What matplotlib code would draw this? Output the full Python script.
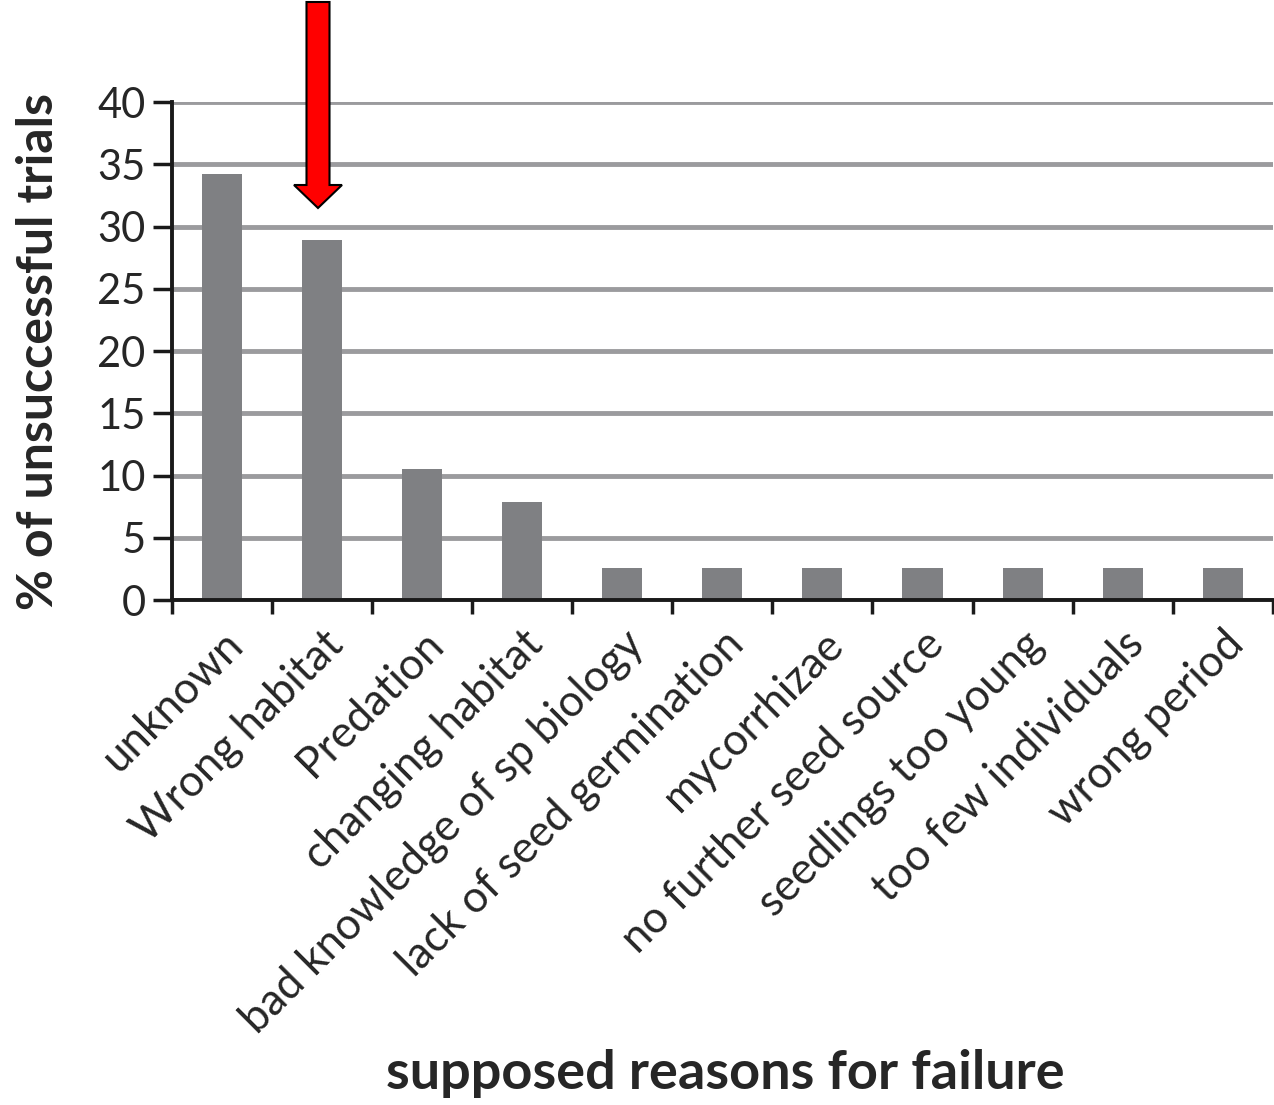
import matplotlib.pyplot as plt
from matplotlib.patches import FancyArrow

# supposed reasons for failure and their share of unsuccessful trials (%)
reasons = ["unknown", "Wrong habitat", "Predation", "changing habitat",
           "bad knowledge of sp biology", "lack of seed germination",
           "mycorrhizae", "no further seed source", "seedlings too young",
           "too few individuals", "wrong period"]
percent = [34.2, 28.9, 10.5, 7.9, 2.6, 2.6, 2.6, 2.6, 2.6, 2.6, 2.6]
yticks = [0, 5, 10, 15, 20, 25, 30, 35, 40]

plt.rcParams['font.family'] = ['Lato', 'DejaVu Sans']
txt = "#262626"

fig = plt.figure(figsize=(12.74, 11.05), dpi=100)
ax = fig.add_axes([0.135, 0.457, 0.864, 0.4506])

x = list(range(len(reasons)))
ax.bar(x, percent, width=0.4, color="#7f8083", zorder=3)

ax.set_xlim(-0.5, len(reasons) - 0.5)
ax.set_ylim(0, 40)
ax.set_yticks(yticks)
ax.set_yticklabels([str(t) for t in yticks], fontsize=30, color=txt)
ax.yaxis.grid(True, color="#9b9b9e", linewidth=3.5, zorder=0)
ax.set_axisbelow(True)

# category ticks sit between the bars
ax.set_xticks([i - 0.5 for i in x] + [len(reasons) - 0.5], minor=False)
ax.set_xticklabels([""] * (len(reasons) + 1))
ax.set_xticks(x, minor=True)
ax.set_xticklabels(reasons, minor=True, rotation=45, ha="right",
                   rotation_mode="anchor", fontsize=31.5, color=txt)
ax.tick_params(axis="x", which="minor", length=0, pad=17)
ax.tick_params(axis="x", which="major", length=10, width=2.5, color="#1a1a1a")
ax.tick_params(axis="y", length=14, width=2.5, color="#1a1a1a", pad=5)

for side in ["top", "right"]:
    ax.spines[side].set_visible(False)
for side in ["left", "bottom"]:
    ax.spines[side].set_linewidth(2.8)
    ax.spines[side].set_color("#1a1a1a")
    ax.spines[side].set_zorder(4)

ax.set_ylabel("% of unsuccessful trials", fontsize=36, fontweight="bold",
              color=txt, labelpad=26)
fig.text(0.569, 0.006, "supposed reasons for failure", fontsize=39,
         fontweight="bold", color=txt, ha="center", va="bottom")

# red arrow pointing at "Wrong habitat"
arrow = FancyArrow(318 / 1274, 1 - 2 / 1105, 0, -(206 / 1105), width=23 / 1274,
                   head_width=48 / 1274, head_length=23 / 1105,
                   length_includes_head=True, transform=fig.transFigure,
                   facecolor="#ff0000", edgecolor="black", linewidth=1.5)
fig.add_artist(arrow)

fig.savefig("out.png", dpi=100)
